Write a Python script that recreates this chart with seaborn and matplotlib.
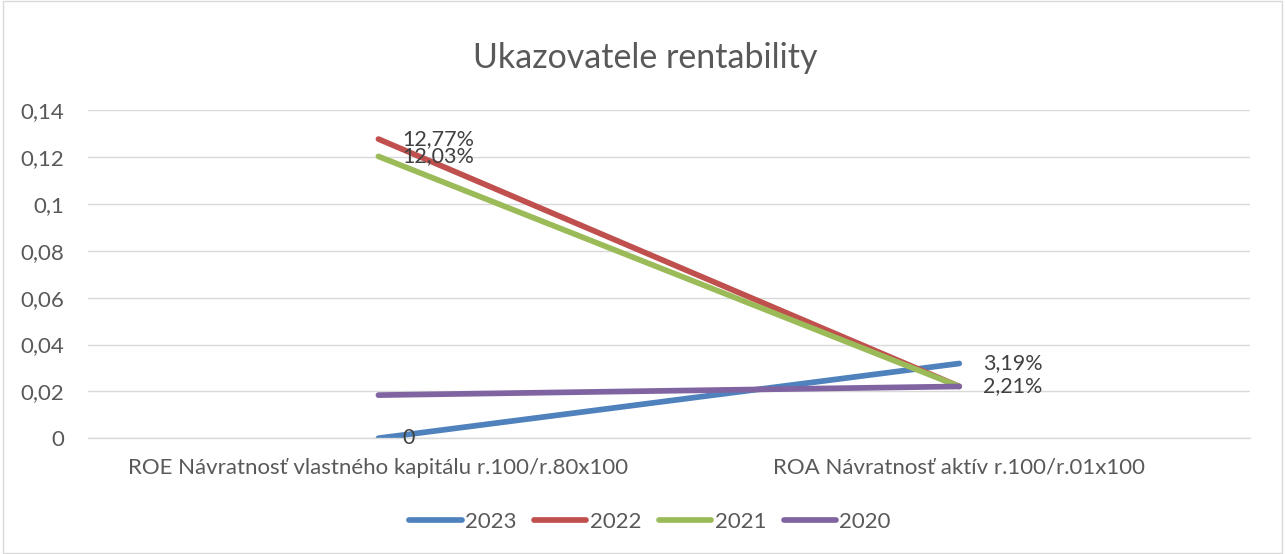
"""
Ukazovatele rentability - line chart of ROE and ROA by year.
"""

import pandas as pd
import matplotlib.pyplot as plt
import seaborn as sns
from matplotlib.patches import Rectangle

# Data
categories = [
    "ROE Návratnosť vlastného kapitálu r.100/r.80x100",
    "ROA Návratnosť aktív r.100/r.01x100",
]
years = ["2023", "2022", "2021", "2020"]
values_2023 = [0.0, 0.0319]
values_2022 = [0.1277, 0.0221]
values_2021 = [0.1203, 0.0221]
values_2020 = [0.0184, 0.0221]
colors = ["#4F81BD", "#C0504D", "#9BBB59", "#8064A2"]

# which points carry a data label: (year, category index, text)
point_labels = [
    ("2023", 0, "0"),
    ("2023", 1, "3,19%"),
    ("2022", 0, "12,77%"),
    ("2021", 0, "12,03%"),
    ("2021", 1, "2,21%"),
]

series = {
    "2023": values_2023,
    "2022": values_2022,
    "2021": values_2021,
    "2020": values_2020,
}

rows = []
for year in years:
    for i, val in enumerate(series[year]):
        rows.append({"pos": i, "value": val, "year": year})
df = pd.DataFrame(rows)

sns.set_style("white")
plt.rcParams["font.family"] = ["Lato", "DejaVu Sans"]

text_color = "#595959"
grid_color = "#D9D9D9"

fig = plt.figure(figsize=(12.85, 5.54), dpi=100)
ax = fig.add_axes([0.0685, 0.209, 0.904, 0.592])

sns.lineplot(
    data=df,
    x="pos",
    y="value",
    hue="year",
    hue_order=years,
    palette=colors,
    linewidth=4.1,
    solid_capstyle="round",
    ax=ax,
)

for year, idx, txt in point_labels:
    ax.annotate(
        txt,
        xy=(idx, series[year][idx]),
        xytext=(17, 0),
        textcoords="offset points",
        ha="left",
        va="center",
        fontsize=15.5,
        color="#404040",
    )

ax.set_xlim(-0.5, 1.5)
ax.set_ylim(0, 0.14)
ax.set_yticks([0, 0.02, 0.04, 0.06, 0.08, 0.1, 0.12, 0.14])
ax.set_yticklabels(["0", "0,02", "0,04", "0,06", "0,08", "0,1", "0,12", "0,14"])
ax.set_xticks([0, 1])
ax.set_xticklabels(categories)
ax.set_xticks([-0.5, 0.5, 1.5], minor=True)
ax.tick_params(axis="x", which="major", length=0, pad=14, labelsize=16, labelcolor=text_color)
ax.tick_params(axis="x", which="minor", length=6, color=grid_color, width=1)
ax.tick_params(axis="y", length=0, pad=17, labelsize=16, labelcolor=text_color)
ax.grid(axis="y", color=grid_color, linewidth=1)
ax.set_axisbelow(True)
for side in ["top", "right", "left"]:
    ax.spines[side].set_visible(False)
ax.spines["bottom"].set_color(grid_color)
ax.spines["bottom"].set_linewidth(1)
ax.set_xlabel("")
ax.set_ylabel("")

fig.suptitle("Ukazovatele rentability", x=0.502, y=0.895, va="center",
             fontsize=24.5, color=text_color)

ax.legend(
    loc="center",
    bbox_to_anchor=(0.506, 0.058),
    bbox_transform=fig.transFigure,
    ncol=4,
    frameon=False,
    fontsize=16,
    handlelength=2.35,
    handletextpad=0.15,
    columnspacing=0.8,
    labelcolor=text_color,
)

fig.patches.append(
    Rectangle((0.002, 0.002), 0.996, 0.996, transform=fig.transFigure,
              fill=False, edgecolor=grid_color, linewidth=1)
)

plt.savefig("out.png", dpi=100)
